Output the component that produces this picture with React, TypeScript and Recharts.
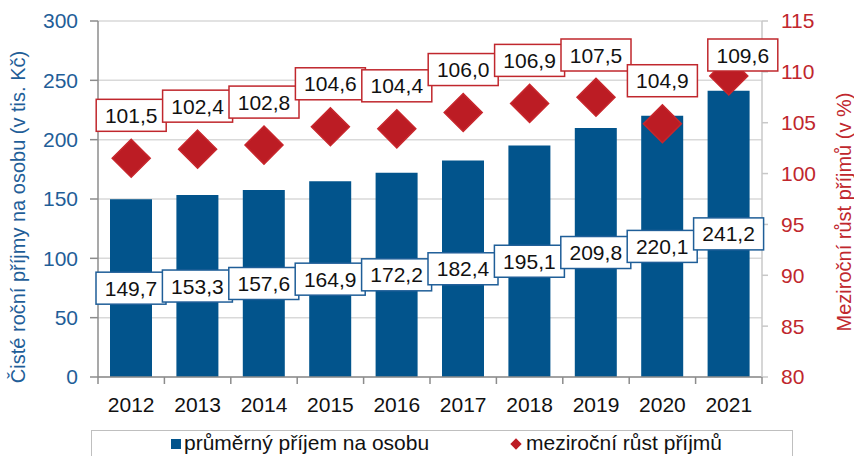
import React from "react";
import {
  ComposedChart,
  Bar,
  Line,
  XAxis,
  YAxis,
  CartesianGrid,
  Legend,
  LabelList,
} from "recharts";

const years = ["2012", "2013", "2014", "2015", "2016", "2017", "2018", "2019", "2020", "2021"];
const income = [149.7, 153.3, 157.6, 164.9, 172.2, 182.4, 195.1, 209.8, 220.1, 241.2];
const growth = [101.5, 102.4, 102.8, 104.6, 104.4, 106.0, 106.9, 107.5, 104.9, 109.6];
const leftTicks = [0, 50, 100, 150, 200, 250, 300];
const rightTicks = [80, 85, 90, 95, 100, 105, 110, 115];

const data = years.map((year, i) => ({ year, income: income[i], growth: growth[i] }));

const BLUE = "#02548C";
const BLUE_TEXT = "#1F5E98";
const RED = "#BC1C24";
const RED_TEXT = "#C0272D";
const AXIS = "#8C8C8C";
const FONT = "'Liberation Sans', Arial, sans-serif";

const W = 854;
const H = 456;
const LEFT_W = 98;
const RIGHT_W = 92;
const BAND = (W - LEFT_W - RIGHT_W) / years.length;

const fmt = (v: number) => v.toFixed(1).replace(".", ",");

function YearTick(props: any) {
  const { x, y, payload, index } = props;
  const half = BAND / 2;
  return (
    <g>
      <line x1={x - half} x2={x - half} y1={y - 20} y2={y - 13} stroke={AXIS} strokeWidth={1.5} />
      {index === years.length - 1 && (
        <line x1={x + half} x2={x + half} y1={y - 20} y2={y - 13} stroke={AXIS} strokeWidth={1.5} />
      )}
      <text x={x} y={y} dy="0.71em" textAnchor="middle" fontSize={21} fill="#111" fontFamily={FONT}>
        {payload.value}
      </text>
    </g>
  );
}

function BarLabel(props: any) {
  const { x, y, width, height, value } = props;
  const cx = x + width / 2;
  const cy = y + height / 2;
  return (
    <g>
      <rect x={cx - 35} y={cy - 16} width={70} height={32} fill="#fff" stroke={BLUE_TEXT} strokeWidth={1.5} />
      <text x={cx} y={cy} dy="0.36em" textAnchor="middle" fontSize={21} fill="#111" fontFamily={FONT}>
        {fmt(value)}
      </text>
    </g>
  );
}

function GrowthLabel(props: any) {
  const { x, y, value, index } = props;
  // the last label was nudged right in the original
  const cx = x + (index === years.length - 1 ? 14 : 0);
  const cy = Math.max(y - 43, 55);
  return (
    <g>
      <rect x={cx - 35} y={cy - 16} width={70} height={32} fill="#fff" stroke={RED_TEXT} strokeWidth={1.5} />
      <text x={cx} y={cy} dy="0.36em" textAnchor="middle" fontSize={21} fill="#111" fontFamily={FONT}>
        {fmt(value)}
      </text>
    </g>
  );
}

function Diamond(props: any) {
  const { cx, cy, index } = props;
  if (cx == null || cy == null) return <g key={index} />;
  const r = 19;
  return (
    <polygon
      key={index}
      points={`${cx},${cy - r} ${cx + r},${cy} ${cx},${cy + r} ${cx - r},${cy}`}
      fill={RED}
      stroke="#C8262C"
      strokeWidth={1.5}
    />
  );
}

function LegendBox() {
  return (
    <div
      style={{
        position: "relative",
        marginLeft: 91,
        width: 702,
        height: 26,
        boxSizing: "border-box",
        borderTop: "1.5px solid #BFBFBF",
        borderLeft: "1.5px solid #BFBFBF",
        borderRight: "1.5px solid #BFBFBF",
        fontFamily: FONT,
        fontSize: 21,
        color: "#111",
      }}
    >
      <span style={{ position: "absolute", left: 79, top: 8, width: 10, height: 10, background: BLUE }} />
      <span style={{ position: "absolute", left: 92, top: -1, lineHeight: "26px", whiteSpace: "nowrap" }}>
        průměrný příjem na osobu
      </span>
      <span
        style={{
          position: "absolute",
          left: 420,
          top: 9,
          width: 8,
          height: 8,
          background: RED,
          transform: "rotate(45deg)",
        }}
      />
      <span style={{ position: "absolute", left: 434, top: -1, lineHeight: "26px", whiteSpace: "nowrap" }}>
        meziroční růst příjmů
      </span>
    </div>
  );
}

export default function App() {
  return (
    <div style={{ position: "absolute", left: 0, top: 0, width: W, height: H, background: "#fff" }}>
      <ComposedChart
        width={W}
        height={H}
        data={data}
        margin={{ top: 21, right: 0, bottom: 0, left: 0 }}
        style={{ fontFamily: FONT }}
      >
        <CartesianGrid yAxisId="left" vertical={false} stroke="#D9D9D9" strokeWidth={1.5} />
        <XAxis
          dataKey="year"
          height={53}
          tickLine={false}
          tickSize={8}
          tickMargin={12}
          axisLine={{ stroke: AXIS, strokeWidth: 1.5 }}
          tick={<YearTick />}
          interval={0}
        />
        <YAxis
          yAxisId="left"
          width={LEFT_W}
          domain={[0, 300]}
          ticks={leftTicks}
          tickSize={8}
          tickMargin={12}
          axisLine={{ stroke: AXIS, strokeWidth: 1.5 }}
          tickLine={{ stroke: AXIS, strokeWidth: 1.5 }}
          tick={{ fontSize: 21, fill: BLUE_TEXT, fontFamily: FONT }}
          label={() => (
            <text
              x={18}
              y={217}
              transform="rotate(-90 18 217)"
              textAnchor="middle"
              dominantBaseline="central"
              fontSize={20}
              fill={BLUE_TEXT}
              fontFamily={FONT}
            >
              Čisté roční příjmy na osobu (v tis. Kč)
            </text>
          )}
        />
        <YAxis
          yAxisId="right"
          orientation="right"
          width={RIGHT_W}
          domain={[80, 115]}
          ticks={rightTicks}
          tickSize={6}
          tickMargin={13}
          axisLine={{ stroke: "#C8C8C8", strokeWidth: 1.5 }}
          tickLine={{ stroke: "#C8C8C8", strokeWidth: 1.5 }}
          tick={{ fontSize: 21, fill: RED_TEXT, fontFamily: FONT }}
          label={() => (
            <text
              x={844}
              y={212}
              transform="rotate(-90 844 212)"
              textAnchor="middle"
              dominantBaseline="central"
              fontSize={20}
              fill={RED_TEXT}
              fontFamily={FONT}
            >
              Meziroční růst příjmů (v %)
            </text>
          )}
        />
        <Legend verticalAlign="bottom" align="left" content={() => <LegendBox />} />
        <Bar yAxisId="left" dataKey="income" fill={BLUE} barSize={42} isAnimationActive={false}>
          <LabelList dataKey="income" content={<BarLabel />} />
        </Bar>
        <Line
          yAxisId="right"
          dataKey="growth"
          stroke="none"
          dot={<Diamond />}
          activeDot={false}
          isAnimationActive={false}
        >
          <LabelList dataKey="growth" content={<GrowthLabel />} />
        </Line>
      </ComposedChart>
    </div>
  );
}
